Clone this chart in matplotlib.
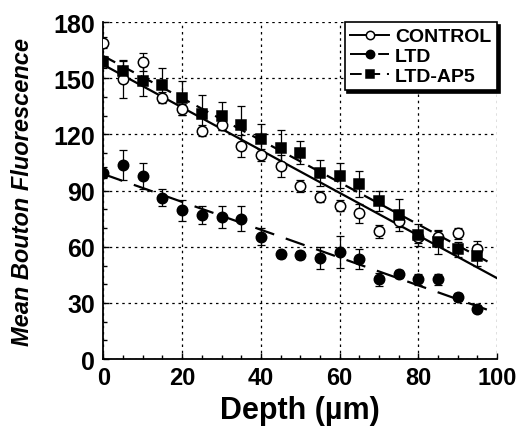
import numpy as np
import matplotlib

matplotlib.use("Agg")

from matplotlib import pyplot as plt
from matplotlib.ticker import MultipleLocator

# depth (um)
depth = [0, 5, 10, 15, 20, 25, 30, 35, 40, 45, 50, 55, 60, 65, 70, 75, 80, 85, 90, 95]

control = [169, 149.5, 158.7, 139.7, 133.5, 121.9, 125.1, 113.9, 109, 103.2,
           92.5, 86.7, 81.9, 77.9, 68.3, 73.8, 65, 65, 67.3, 58.7]
control_err = [3, 10, 5, 3, 3, 3, 3, 6, 3, 6, 3, 3, 3, 5, 3.5, 3, 3, 4, 3, 4.5]

ltd = [99.6, 103.9, 97.9, 86.3, 79.5, 77, 75.9, 75.1, 65.5, 55.9,
       55.5, 54.1, 57.3, 53.4, 42.7, 45.4, 42.7, 42.7, 33.3, 27]
ltd_err = [3, 8, 7, 4.5, 5.7, 4.7, 5.8, 6.8, 4.3, 2, 2, 6, 8.5, 5.5, 3.5, 2, 3, 3, 2, 2]

ap5 = [158.7, 154, 148.6, 146.5, 139.4, 130.8, 129.9, 125, 117.8, 113,
       110.3, 99.3, 97.9, 93.4, 84.5, 77, 66.2, 62.3, 58.7, 55.2]
ap5_err = [3, 5.3, 8, 9, 9, 10, 7.5, 10, 8, 9.4, 6, 7, 6.6, 7, 5.3, 8.4, 6, 6, 4, 5.5]

plt.rcParams["font.family"] = ["Liberation Sans", "DejaVu Sans"]
plt.rcParams["font.weight"] = "bold"

fig = plt.figure(figsize=(5.25, 4.35), dpi=100)
ax = fig.add_axes([0.197, 0.172, 0.75, 0.775])

x = np.array(depth, dtype=float)

series = [
    ("CONTROL", control, control_err, "o", "white", "-", 100),
    ("LTD", ltd, ltd_err, "o", "black", (0, (9, 5.5)), 100),
    ("LTD-AP5", ap5, ap5_err, "s", "black", (0, (6, 3.5)), 98),
]

for label, vals, err, marker, face, ls, xend in series:
    vals = np.array(vals)
    ax.errorbar(x, vals, yerr=err, fmt="none", ecolor="black", elinewidth=0.9,
                capsize=3, capthick=0.9, zorder=2)
    slope, intercept = np.polyfit(x, vals, 1)
    xfit = np.linspace(0, xend, 50)
    ax.plot(xfit, slope * xfit + intercept, color="black", lw=1.6, ls=ls, zorder=3)
    ax.plot(x, vals, ls="none", marker=marker, ms=7.5 if marker == "o" else 7,
            mfc=face, mec="black", mew=1.1, zorder=4)
    # legend proxy
    ax.plot([], [], color="black", lw=1.4, ls=ls, marker=marker, ms=6,
            mfc=face, mec="black", mew=1.1, label=label)

ax.set_xlim(0, 100)
ax.set_ylim(0, 180)
ax.xaxis.set_major_locator(MultipleLocator(20))
ax.xaxis.set_minor_locator(MultipleLocator(5))
ax.yaxis.set_major_locator(MultipleLocator(30))
ax.yaxis.set_minor_locator(MultipleLocator(10))
ax.tick_params(which="both", direction="in", width=1)
ax.tick_params(which="major", length=4)
ax.tick_params(which="minor", length=3)
ax.tick_params(axis="x", labelsize=17, pad=5)
ax.tick_params(axis="y", labelsize=18, pad=6)
for lab in ax.get_xticklabels() + ax.get_yticklabels():
    lab.set_fontweight("bold")

ax.grid(True, which="major", color="black", ls=(0, (2, 3)), lw=0.9)
ax.set_axisbelow(True)
for side in ("top", "right"):
    ax.spines[side].set_visible(False)
for side in ("left", "bottom"):
    ax.spines[side].set_linewidth(1.3)

ax.set_xlabel("Depth (µm)", fontsize=22, fontweight="bold", labelpad=4)
ax.set_ylabel("Mean Bouton Fluorescence", fontsize=17, fontweight="bold",
              fontstyle="italic", labelpad=14)

leg = ax.legend(loc="upper right", bbox_to_anchor=(1.0, 1.0), borderaxespad=0.0,
                fancybox=False, frameon=True, edgecolor="black", framealpha=1,
                shadow={"color": "black", "alpha": 1}, handlelength=2.0,
                handletextpad=0.3, labelspacing=0.1, borderpad=0.3,
                prop={"size": 14, "weight": "bold"})
leg.get_frame().set_linewidth(1.2)

fig.savefig("out.png", dpi=100)
